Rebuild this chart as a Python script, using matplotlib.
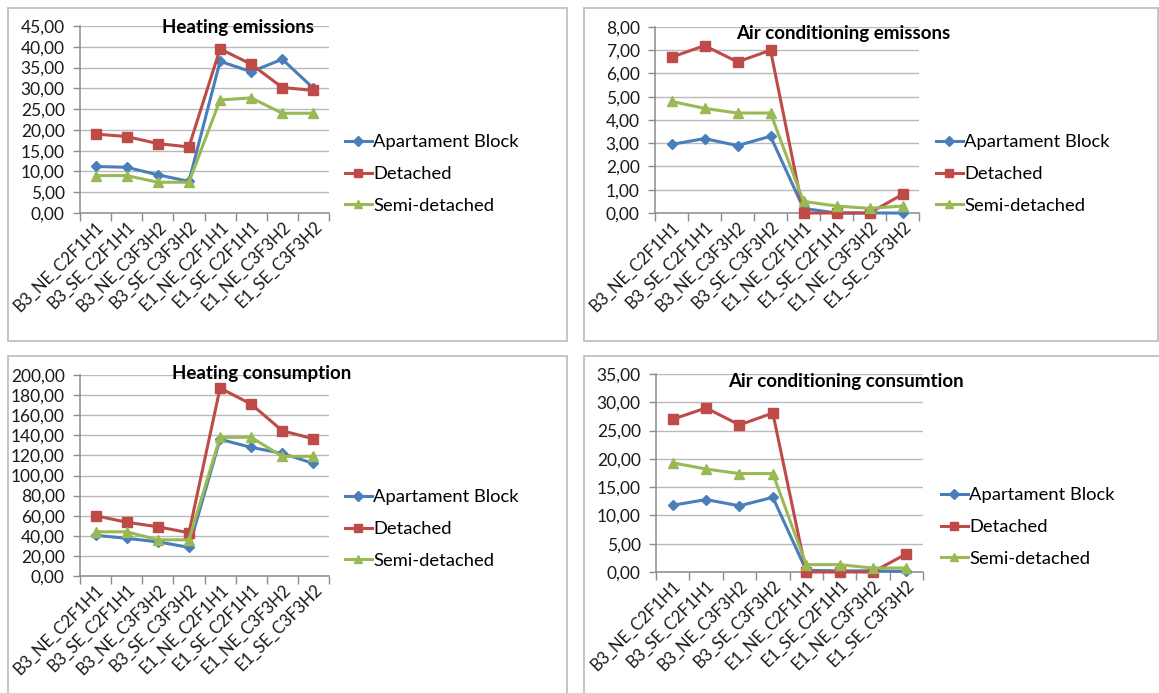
import matplotlib.pyplot as plt
from matplotlib.patches import Rectangle
from matplotlib.ticker import FuncFormatter, FixedLocator
import numpy as np

plt.rcParams['font.family'] = ['Lato', 'DejaVu Sans']

categories = ['B3_NE_C2F1H1', 'B3_SE_C2F1H1', 'B3_NE_C3F3H2', 'B3_SE_C3F3H2',
              'E1_NE_C2F1H1', 'E1_SE_C2F1H1', 'E1_NE_C3F3H2', 'E1_SE_C3F3H2']
series_names = ['Apartament Block', 'Detached', 'Semi-detached']

heat_em_apart = [11.2, 11.0, 9.2, 7.6, 36.5, 34.0, 37.0, 30.0]
heat_em_det = [19.0, 18.4, 16.7, 15.9, 39.5, 35.8, 30.2, 29.5]
heat_em_semi = [9.0, 9.0, 7.4, 7.4, 27.2, 27.7, 24.0, 24.0]

ac_em_apart = [2.95, 3.2, 2.9, 3.3, 0.2, 0.0, 0.0, 0.0]
ac_em_det = [6.7, 7.2, 6.5, 7.0, 0.0, 0.0, 0.0, 0.8]
ac_em_semi = [4.8, 4.5, 4.3, 4.3, 0.5, 0.3, 0.2, 0.3]

heat_cons_apart = [40.5, 37.5, 34.0, 28.5, 136.0, 128.0, 122.0, 112.0]
heat_cons_det = [60.0, 53.5, 49.0, 43.0, 187.0, 171.0, 144.5, 136.5]
heat_cons_semi = [44.0, 44.0, 36.0, 36.0, 138.0, 138.0, 119.0, 119.0]

ac_cons_apart = [11.8, 12.8, 11.7, 13.2, 0.3, 0.2, 0.2, 0.1]
ac_cons_det = [27.0, 29.0, 26.0, 28.1, 0.0, 0.0, 0.0, 3.2]
ac_cons_semi = [19.3, 18.2, 17.4, 17.4, 1.3, 1.3, 0.7, 0.7]

W, H = 1159, 693
fig = plt.figure(figsize=(W / 100, H / 100), dpi=100)

colors = ['#4A7EBB', '#BE4B48', '#98B954']
markers = ['D', 's', '^']
msizes = [5.5, 7.5, 7.5]

# panel frames (pixels: left, top, right, bottom)
frames = [(8, 8, 567, 341), (584, 8, 1158, 341), (8, 356, 567, 720), (584, 356, 1170, 720)]
for x0, y0, x1, y1 in frames:
    fig.add_artist(Rectangle((x0 / W, 1 - y1 / H), (x1 - x0) / W, (y1 - y0) / H,
                             transform=fig.transFigure, fill=False,
                             ec='#c0c0c0', lw=1.3))

panels = [
    dict(box=(80, 26, 329, 213), data=[heat_em_apart, heat_em_det, heat_em_semi],
         ymax=45, step=5, title='Heating emissions', tpos=(238, 27), leg=(345, 174)),
    dict(box=(655, 27, 919, 213), data=[ac_em_apart, ac_em_det, ac_em_semi],
         ymax=8, step=1, title='Air conditioning emissons', tpos=(843, 33), leg=(936, 174)),
    dict(box=(80, 375, 329, 576), data=[heat_cons_apart, heat_cons_det, heat_cons_semi],
         ymax=200, step=20, title='Heating consumption', tpos=(262, 374), leg=(345, 529)),
    dict(box=(656, 374, 923, 572), data=[ac_cons_apart, ac_cons_det, ac_cons_semi],
         ymax=35, step=5, title='Air conditioning consumtion', tpos=(846, 381), leg=(941, 527)),
]

fmt = FuncFormatter(lambda v, p: f'{v:.2f}'.replace('.', ','))
x = np.arange(1, len(categories) + 1)

for p in panels:
    l, t, r, b = p['box']
    ax = fig.add_axes([l / W, 1 - b / H, (r - l) / W, (b - t) / H])
    for vals, c, m, ms, name in zip(p['data'], colors, markers, msizes, series_names):
        ax.plot(x, vals, color=c, marker=m, markersize=ms, lw=2.2, label=name,
                clip_on=False, zorder=3)
    ax.set_xlim(0.5, len(categories) + 0.5)
    ax.set_ylim(0, p['ymax'])
    ax.set_yticks(np.arange(0, p['ymax'] + p['step'] / 2, p['step']))
    ax.yaxis.set_major_formatter(fmt)
    ax.grid(axis='y', color='#8c8c8c', lw=1, alpha=0.6, zorder=0)
    ax.set_axisbelow(True)
    for s in ['top', 'right']:
        ax.spines[s].set_visible(False)
    for s in ['left', 'bottom']:
        ax.spines[s].set_color('#8c8c8c')
        ax.spines[s].set_linewidth(1.1)
    ax.xaxis.set_major_locator(FixedLocator(np.arange(0.5, len(categories) + 1, 1)))
    ax.xaxis.set_minor_locator(FixedLocator(x))
    ax.set_xticklabels([])
    ax.set_xticklabels(categories, minor=True, rotation=45, ha='right',
                       rotation_mode='anchor', fontsize=12, color='#1a1a1a')
    ax.tick_params(axis='x', which='major', length=6, color='#8c8c8c', width=1)
    ax.tick_params(axis='x', which='minor', length=0, pad=4)
    ax.tick_params(axis='y', length=5, color='#8c8c8c', width=1, labelsize=12.5,
                   labelcolor='#1a1a1a', pad=6)
    lx, ly = p['leg']
    ax.legend(loc='center left',
              bbox_to_anchor=((lx - l) / (r - l), (b - ly) / (b - t)),
              frameon=False, fontsize=13.2, handlelength=1.45, handletextpad=0.1,
              borderpad=0, borderaxespad=0, labelspacing=0.85, markerscale=0.85)
    tx, ty = p['tpos']
    fig.text(tx / W, 1 - ty / H, p['title'], ha='center', va='center',
             fontsize=13.5, fontweight='bold', color='#000000')

fig.savefig('out.png', dpi=100)
